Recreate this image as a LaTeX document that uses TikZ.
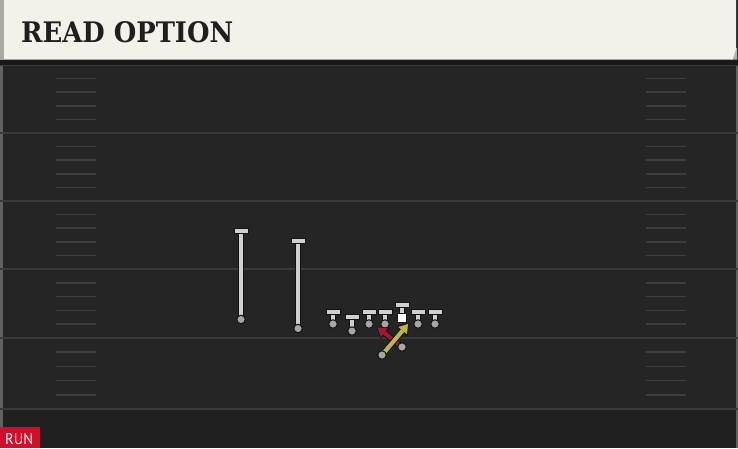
\documentclass[tikz,border=0pt]{standalone}
\usepackage{fontspec}
\usetikzlibrary{arrows.meta}
\newfontfamily\titlefont{DejaVu Serif}
\newfontfamily\runfont{PT Sans}
\definecolor{fieldbg}{HTML}{252525}
\definecolor{fieldbot}{HTML}{202020}
\definecolor{yardc}{HTML}{3A3A3A}
\definecolor{hashc}{HTML}{3E3E3E}
\definecolor{cream}{HTML}{F4F1EA}
\definecolor{creamedge}{HTML}{A9A9A6}
\definecolor{plgray}{HTML}{CFCFCF}
\definecolor{dotgray}{HTML}{A6A6A6}
\definecolor{outl}{HTML}{121212}
\definecolor{optyel}{HTML}{B8B64C}
\definecolor{optred}{HTML}{A3172F}
\definecolor{runred}{HTML}{D0102A}
\tikzset{
  yard/.style={draw=yardc, line width=1.8pt},
  hashm/.style={draw=hashc, line width=1.5pt},
  stemout/.style={draw=outl, line width=6.6pt},
  stemin/.style={draw=plgray, line width=4.6pt},
  barbox/.style={rectangle, draw=outl, fill=plgray, line width=1pt, minimum width=14pt, minimum height=5pt, inner sep=0pt},
  dotbox/.style={circle, draw=outl, fill=dotgray, line width=1pt, minimum size=8.5pt, inner sep=0pt},
  ctrbox/.style={rectangle, draw=outl, fill=white, line width=1pt, minimum size=9.5pt, inner sep=0pt},
  arrout/.style={draw=outl, line width=6pt, -{Triangle[length=11pt,width=14pt,line width=0.1pt]}},
  arryel/.style={draw=optyel, line width=4.2pt, shorten >=1.4pt, -{Triangle[length=8.5pt,width=11pt,line width=0.1pt]}},
  arrred/.style={draw=optred, line width=4.2pt, shorten >=1.4pt, -{Triangle[length=8.5pt,width=11pt,line width=0.1pt]}},
}
\newcommand\plyroute[2]{%
  \draw[stemout] (#1) -- (#2);
  \draw[stemin] (#1) -- (#2);
  \node[barbox] (#2b) at (#2) {};
}
\begin{document}
\begin{tikzpicture}[x=1pt,y=-1pt]
\useasboundingbox (0,0) rectangle (738,448);
% field
\fill[fieldbg] (0,0) rectangle (738,448);
\fill[fieldbot] (0,409) rectangle (738,448);
\fill[yardc!80] (0,59) rectangle (2.5,448);
\fill[yardc!80] (735.5,59) rectangle (738,448);
% yard lines and hash marks
\foreach \ya/\yb in {65/133,133/201,201/269,269/338,338/409}{
  \draw[yard] (0,\ya) -- (738,\ya);
  \foreach \k in {1,2,3,4}{
    \pgfmathsetmacro\yy{\ya+\k*(\yb-\ya)/5}
    \draw[hashm] (56,\yy) -- (96,\yy);
    \draw[hashm] (646,\yy) -- (686,\yy);
  }
}
\draw[yard] (0,409) -- (738,409);
% header
\fill[black!90] (0,59) rectangle (738,65);
\fill[creamedge] (0,0) rectangle (4,59.5);
\fill[gray!60] (733,48) -- (737,48) -- (737,59.5) -- (731,59.5) -- cycle;
\fill[cream] (4,0) -- (736,0) -- (736,49) -- (732.5,59.5) -- (4,59.5) -- cycle;
\node[anchor=base west, inner sep=0pt, text=black!88] (title) at (21,42.7)
  {\resizebox{212pt}{21pt}{\titlefont\bfseries READ OPTION}};
% players
\coordinate (wr1) at (241,319.5);  \coordinate (wr1e) at (241,231);
\coordinate (wr2) at (298,328.5);  \coordinate (wr2e) at (298,240.5);
\coordinate (l1) at (333,324);     \coordinate (l1e) at (333,311.5);
\coordinate (l2) at (352,331);     \coordinate (l2e) at (352,316.5);
\coordinate (l3) at (369,324);     \coordinate (l3e) at (369,311.5);
\coordinate (l4) at (385,324);     \coordinate (l4e) at (385,311.5);
\coordinate (c) at (402,318);      \coordinate (ce) at (402,305);
\coordinate (l6) at (418,324);     \coordinate (l6e) at (418,311.5);
\coordinate (l7) at (435,324);     \coordinate (l7e) at (435,311.5);
\plyroute{wr1}{wr1e}
\plyroute{wr2}{wr2e}
\plyroute{l1}{l1e}
\plyroute{l2}{l2e}
\plyroute{l3}{l3e}
\plyroute{l4}{l4e}
\plyroute{c}{ce}
\plyroute{l6}{l6e}
\plyroute{l7}{l7e}
\foreach \p in {wr1,wr2,l1,l2,l3,l4,l6,l7}{\node[dotbox] (\p d) at (\p) {};}
\node[ctrbox] (cd) at (c) {};
% option backs
\coordinate (rb) at (402,347);   \coordinate (rbe) at (376.5,326.5);
\coordinate (qb) at (382,355);   \coordinate (qbe) at (409,323);
\draw[arrout] (rb) -- (rbe);
\draw[arrred] (rb) -- (rbe);
\node[dotbox] (rbd) at (rb) {};
\draw[arrout] (qb) -- (qbe);
\draw[arryel] (qb) -- (qbe);
\node[dotbox] (qbd) at (qb) {};
% run tag
\fill[runred] (0,427) rectangle (40,448);
\node[anchor=base west, inner sep=0pt, text=white] (run) at (5,444)
  {\resizebox{28pt}{11pt}{\runfont RUN}};
\end{tikzpicture}
\end{document}
